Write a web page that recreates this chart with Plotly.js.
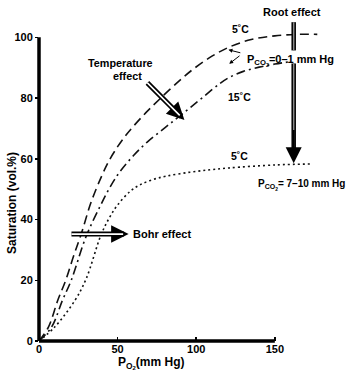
<!DOCTYPE html>
<html><head><meta charset="utf-8">
<script src="https://cdn.plot.ly/plotly-3.0.1.min.js"></script>
<style>html,body{margin:0;padding:0;background:#fff}</style>
</head><body>
<div id="chart" style="width:350px;height:382px"></div>
<script>
// PO2 (mm Hg) and saturation (vol.%) for each curve
const po2_5C_low = [0, 6, 12, 17, 22, 27, 33, 40, 45, 50, 55, 60, 68, 77, 89, 98, 110, 121, 135, 150, 165, 177];
const sat_5C_low = [0, 4.6, 13.5, 20, 28, 35.5, 45.5, 54.5, 59.8, 64, 67.6, 70.7, 75.2, 79.8, 85.6, 89.5, 93.8, 96.8, 99.3, 100.5, 101, 101];
const po2_15C_low = [0, 8, 15, 20.5, 30, 39, 45, 51.5, 60, 69, 80, 88, 96, 105, 115, 121, 130, 140, 150, 160];
const sat_15C_low = [0, 4.6, 13.5, 20, 34.5, 44.5, 50.5, 55.8, 61, 65.6, 70.2, 73.5, 76.8, 80.6, 84.8, 86.8, 88.8, 90.2, 91.2, 92];
const po2_5C_high = [0, 10, 23, 30, 39.5, 45, 50, 58, 64, 72, 81, 96, 109, 121, 151, 174];
const sat_5C_high = [0, 4.6, 13.5, 20.5, 35, 40.8, 44.8, 49.3, 51.4, 53.1, 54.3, 55.6, 56.4, 57, 58, 58.3];
const xTicks = [0, 50, 100, 150];
const yTicks = [0, 20, 40, 60, 80, 100];

const xMax = 180, yMax = 110;
const F = 'Liberation Sans, Arial, sans-serif';

const traces = [
  {x: po2_5C_low, y: sat_5C_low, mode: 'lines', line: {color: '#111', width: 1.6, dash: '9px,5px', shape: 'spline'}, hoverinfo: 'skip'},
  {x: po2_15C_low, y: sat_15C_low, mode: 'lines', line: {color: '#111', width: 1.6, dash: '9px,4px,2px,4px', shape: 'spline'}, hoverinfo: 'skip'},
  {x: po2_5C_high, y: sat_5C_high, mode: 'lines', line: {color: '#111', width: 1.6, dash: '2px,3px', shape: 'spline'}, hoverinfo: 'skip'}
];

function txt(x, y, text, size, opts) {
  return Object.assign({x: x, y: y, xref: 'x', yref: 'y', text: text, showarrow: false,
    xanchor: 'center', yanchor: 'middle',
    font: {family: F, size: size, color: '#000', weight: 'bold'}}, opts || {});
}
function arrow(x, y, ax, ay, w, color, head, size) {
  return {x: x, y: y, ax: ax, ay: ay, xref: 'x', yref: 'y', axref: 'x', ayref: 'y', text: '',
    showarrow: true, arrowwidth: w, arrowcolor: color, arrowhead: head, arrowsize: size || 1};
}

const annotations = [
  // Bohr effect double arrow
  arrow(57, 35.2, 19.7, 35.2, 5, '#000', 2, 0.7),
  arrow(53.5, 35.2, 19.7, 35.2, 1.6, '#fff', 0, 1),
  txt(58.3, 35.2, 'Bohr effect', 11, {xanchor: 'left'}),
  // Temperature effect double arrow
  arrow(92.5, 72.8, 68, 85.5, 5, '#000', 2, 0.7),
  arrow(89.5, 74.3, 68, 85.5, 1.6, '#fff', 0, 1),
  txt(52, 91.6, 'Temperature', 10.8),
  txt(56.6, 87.3, 'effect', 10.8),
  // Root effect
  arrow(162, 58.5, 162, 70, 2, '#000', 2, 1.6),
  txt(161, 108.3, 'Root effect', 11),
  // curve labels
  txt(128.4, 102.6, '5˚C', 10.5),
  txt(127.8, 80.3, '15˚C', 10.5),
  txt(127.8, 60.8, '5˚C', 10.5),
  txt(131, 92.5, 'P<sub>CO<sub>2</sub></sub>=0–1 mm Hg', 11, {xanchor: 'left'}),
  txt(138.3, 51.3, 'P<sub>CO<sub>2</sub></sub>= 7–10 mm Hg', 10, {xanchor: 'left'}),
  arrow(120.5, 95.9, 129, 94.8, 1, '#000', 2, 0.8),
  arrow(121, 91.3, 128.5, 94.3, 1, '#000', 2, 0.8),
  // axis titles
  {x: -0.095, y: 45.5, xref: 'paper', yref: 'y', xanchor: 'center', yanchor: 'middle',
   text: 'Saturation (vol.%)', textangle: -90, showarrow: false,
   font: {family: F, size: 12, color: '#000', weight: 'bold'}},
  {x: 71.2, y: -0.066, xref: 'x', yref: 'paper', xanchor: 'center', yanchor: 'middle',
   text: 'P<sub>O<sub>2</sub></sub>(mm Hg)', showarrow: false,
   font: {family: F, size: 12, color: '#000', weight: 'bold'}}
];

const shapes = [
  // axis lines
  {type: 'line', xref: 'paper', yref: 'paper', x0: 0, x1: 150 / xMax, y0: 0, y1: 0, line: {color: '#000', width: 3.5}},
  {type: 'line', xref: 'paper', yref: 'paper', x0: 0, x1: 0, y0: 0, y1: 100 / yMax, line: {color: '#000', width: 3.5}},
  // Root effect shaft (double line)
  {type: 'line', xref: 'x', yref: 'y', x0: 162, x1: 162, y0: 105, y1: 95.7, line: {color: '#000', width: 4.5}},
  {type: 'line', xref: 'x', yref: 'y', x0: 162, x1: 162, y0: 105, y1: 95.7, line: {color: '#888', width: 1.5}},
  {type: 'line', xref: 'x', yref: 'y', x0: 162, x1: 162, y0: 91.4, y1: 62, line: {color: '#000', width: 4.5}},
  {type: 'line', xref: 'x', yref: 'y', x0: 162, x1: 162, y0: 91.4, y1: 62, line: {color: '#888', width: 1.5}}
];

const layout = {
  width: 350, height: 382,
  margin: {l: 39, r: 28, t: 7, b: 41, pad: 0},
  paper_bgcolor: '#fff', plot_bgcolor: '#fff',
  showlegend: false,
  xaxis: {range: [0, xMax], tickvals: xTicks, ticktext: xTicks.map(String), ticks: 'inside', ticklen: 4, tickwidth: 1.5,
    tickcolor: '#000', showgrid: false, zeroline: false, showline: false, fixedrange: true,
    tickfont: {family: F, size: 11, color: '#000', weight: 'bold'}},
  yaxis: {range: [0, yMax], tickvals: yTicks, ticktext: yTicks.map(String), ticks: 'outside', ticklen: 3, tickwidth: 1.5,
    tickcolor: '#000', showgrid: false, zeroline: false, showline: false, fixedrange: true,
    tickfont: {family: F, size: 11, color: '#000', weight: 'bold'}},
  annotations: annotations,
  shapes: shapes
};

Plotly.newPlot('chart', traces, layout, {staticPlot: true, displayModeBar: false});
</script>
</body></html>
